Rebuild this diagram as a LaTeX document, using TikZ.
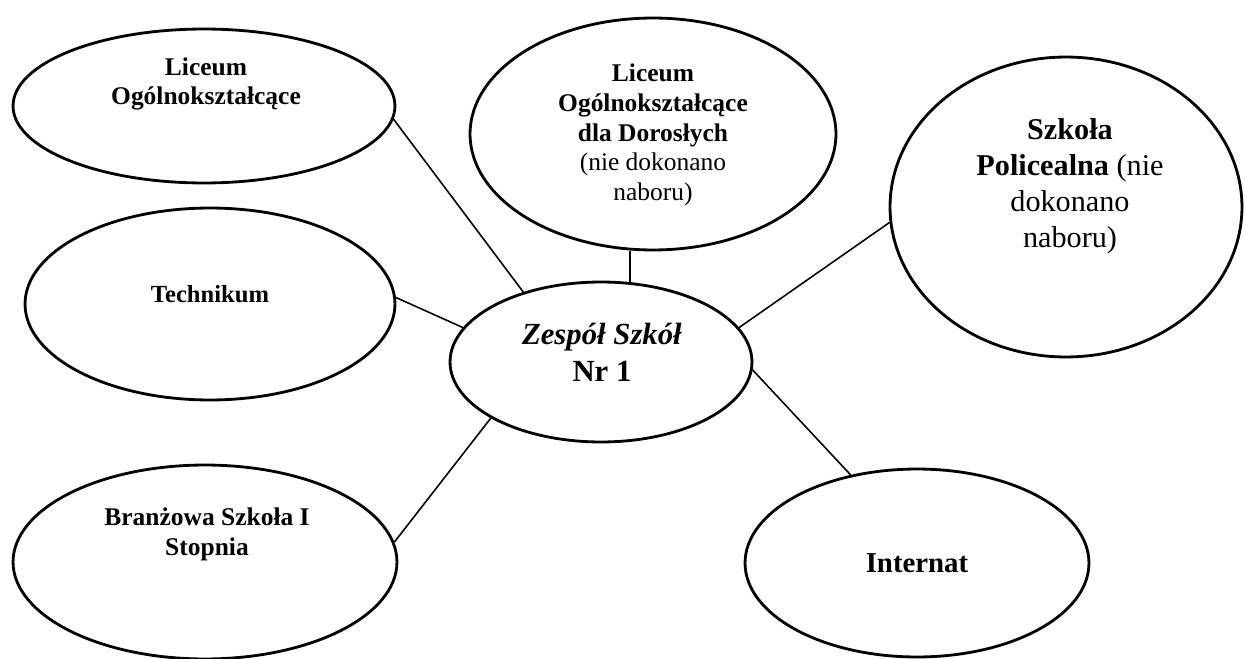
\documentclass[tikz,border=0pt]{standalone}
\usepackage{fontspec}
\setmainfont{Liberation Serif}
\usepackage{tikz}
\usetikzlibrary{shapes}
\usetikzlibrary{positioning}
\tikzstyle{school}=[ellipse,draw,line width=1.6pt,inner sep=0pt,black]
\tikzstyle{txt}=[align=center,inner sep=0pt,font=\fontsize{14.5}{17}\selectfont\bfseries]
\tikzstyle{link} = [draw,line width=0.9pt,-,black]

\begin{document}
\begin{tikzpicture}[x=0.02cm,y=-0.02cm]
\useasboundingbox (0,0) rectangle (1245,659);

	\node[school,minimum width=7.64cm,minimum height=3.08cm] (lo) at (204,106) {};
	\node[school,minimum width=7.32cm,minimum height=4.64cm] (lod) at (653,134) {};
	\node[school,minimum width=7.04cm,minimum height=6.00cm] (szp) at (1066,207) {};
	\node[school,minimum width=7.40cm,minimum height=3.84cm] (tech) at (210,304) {};
	\node[school,minimum width=6.04cm,minimum height=3.20cm] (zs) at (601,362) {};
	\node[school,minimum width=7.68cm,minimum height=3.88cm] (bran) at (205,562) {};
	\node[school,minimum width=6.88cm,minimum height=3.76cm] (int) at (917,563) {};

	\node[txt] (lot) at (206,84) {Liceum\\Ogólnokształcące};
	\node[txt] (lodt) at (653,135) {Liceum\\Ogólnokształcące\\dla Dorosłych\\
		\textmd{(nie dokonano}\\\textmd{naboru)}};
	\node[txt,font=\fontsize{17.2}{20.4}\selectfont] (szpt) at (1070,186)
		{\textbf{Szkoła}\\\textbf{Policealna} (nie\\dokonano\\naboru)};
	\node[txt,font=\fontsize{14}{17}\selectfont\bfseries] (techt) at (210,294) {Technikum};
	\node[txt,font=\fontsize{17.5}{21}\selectfont\bfseries] (zst) at (602,352)
		{\textit{Zespół Szkół}\\Nr 1};
	\node[txt] (brant) at (207,534) {Branżowa Szkoła I\\Stopnia};
	\node[txt,font=\fontsize{16.4}{19}\selectfont\bfseries] (intt) at (917,563) {Internat};

% % % links to the centre
	\path[link] (lo.-4) -- (zs.138);
	\path[link] (tech.2) -- (zs.166);
	\path[link] (bran.6) -- (zs.-153);
	\path[link] (zs.70) -- (zs.70 |- lod.south);
	\path[link] (szp.-175) -- (zs.14);
	\path[link] (int.127) -- (zs.-3);

\end{tikzpicture}
\end{document}
